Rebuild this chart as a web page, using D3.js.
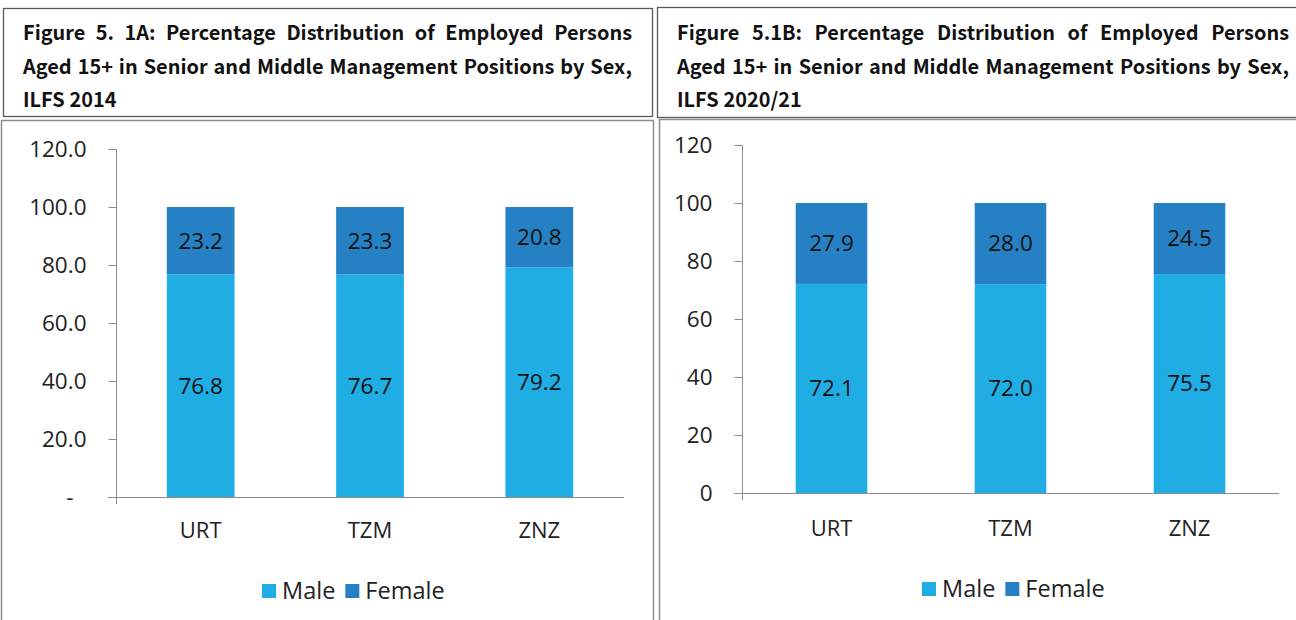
<!DOCTYPE html>
<html>
<head>
<meta charset="utf-8">
<script src="https://cdn.jsdelivr.net/npm/d3@7"></script>
<style>
  body { margin: 0; background: #fff; }
  svg { display: block; }
</style>
</head>
<body>
<svg id="chart" width="1296" height="620"></svg>
<script>
const categories = ["URT", "TZM", "ZNZ"];
const series = ["Male", "Female"];
const colors = ["#1FADE3", "#2581C4"];

const male2014 = [76.8, 76.7, 79.2];
const female2014 = [23.2, 23.3, 20.8];
const male2021 = [72.1, 72.0, 75.5];
const female2021 = [27.9, 28.0, 24.5];

const ticks2014 = [0, 20, 40, 60, 80, 100, 120];
const ticks2021 = [0, 20, 40, 60, 80, 100, 120];

const titleA = [
  "Figure 5. 1A: Percentage Distribution of Employed Persons",
  "Aged 15+ in Senior and Middle Management Positions by Sex,",
  "ILFS 2014"
];
const titleB = [
  "Figure 5.1B: Percentage Distribution of Employed Persons",
  "Aged 15+ in Senior and Middle Management Positions by Sex,",
  "ILFS 2020/21"
];

const svg = d3.select("#chart");
const labelFont = "'Open Sans', 'Noto Sans', sans-serif";
const titleFont = "'Noto Sans CJK SC', 'Noto Sans', sans-serif";

const panels = [
  {
    title: titleA, male: male2014, female: female2014, ticks: ticks2014,
    fmt: d => d === 0 ? "-" : d3.format(".1f")(d),
    titleBox: [3, 8, 649, 108], chartBox: [1, 120, 652, 520],
    textX: [23, 632], baselines: [40, 74, 107],
    x0: 116, x1: 624, y0: 497, yTop: 149, catY: 538, legY: 591, legX: 262
  },
  {
    title: titleB, male: male2021, female: female2021, ticks: ticks2021,
    fmt: d3.format("d"),
    titleBox: [657, 7, 650, 110], chartBox: [659, 119, 650, 520],
    textX: [677, 1289], baselines: [40, 74, 107],
    x0: 742, x1: 1279, y0: 493, yTop: 145, catY: 536, legY: 589, legX: 922
  }
];

// pick a title size so the second line sits with ~6px word gaps
function titleSize(line, width) {
  const t = svg.append("text").attr("font-family", titleFont).attr("font-weight", "bold")
    .attr("font-size", 20).text(line.replace(/ /g, ""));
  const w = t.node().getComputedTextLength();
  t.remove();
  const gaps = line.split(" ").length - 1;
  return 20 * (width - gaps * 6) / w;
}
const tSize = titleSize(titleA[1], 609);

panels.forEach(p => {
  // boxes
  svg.append("rect")
    .attr("x", p.titleBox[0] + 0.5).attr("y", p.titleBox[1] + 0.5)
    .attr("width", p.titleBox[2]).attr("height", p.titleBox[3])
    .attr("fill", "none").attr("stroke", "#595959").attr("stroke-width", 1.3);
  svg.append("rect")
    .attr("x", p.chartBox[0] + 0.5).attr("y", p.chartBox[1] + 0.5)
    .attr("width", p.chartBox[2]).attr("height", p.chartBox[3])
    .attr("fill", "none").attr("stroke", "#8c8c8c").attr("stroke-width", 1.5);

  // justified title
  const tg = svg.append("g")
    .attr("font-family", titleFont).attr("font-weight", "bold")
    .attr("font-size", tSize).attr("fill", "#111");
  p.title.forEach((line, i) => {
    const words = line.split(" ");
    const justify = i < p.title.length - 1;
    const nodes = words.map(w => tg.append("text").attr("y", p.baselines[i]).text(w));
    const widths = nodes.map(n => n.node().getComputedTextLength());
    const total = d3.sum(widths);
    const gap = justify ? (p.textX[1] - p.textX[0] - total) / (words.length - 1) : 5;
    let x = p.textX[0];
    nodes.forEach((n, k) => { n.attr("x", x); x += widths[k] + gap; });
  });

  const x = d3.scaleBand().domain(categories).range([p.x0, p.x1]).paddingInner(0.6).paddingOuter(0.3);
  const y = d3.scaleLinear().domain([0, 120]).range([p.y0, p.yTop]);

  // y axis
  const ya = svg.append("g").attr("transform", `translate(${p.x0 + 0.5},0)`)
    .call(d3.axisLeft(y).tickValues(p.ticks).tickFormat(p.fmt).tickSize(8).tickPadding(22));
  ya.select(".domain").attr("stroke", "#8c8c8c").attr("d", `M-8,${y(120) + 0.5}H0V${p.y0 + 0.5}`);
  ya.selectAll(".tick line").attr("stroke", "#8c8c8c");
  ya.selectAll(".tick text").attr("font-family", labelFont).attr("font-size", 22.5).attr("fill", "#222")
    .attr("dx", d => d === 0 && p.fmt(0) === "-" ? -13 : 0);

  // bars
  const stacked = d3.stack().keys(series)(categories.map((c, i) => ({ Male: p.male[i], Female: p.female[i] })));
  stacked.forEach((s, si) => {
    const g = svg.append("g");
    g.selectAll("rect").data(s).join("rect")
      .attr("x", (d, i) => x(categories[i]))
      .attr("width", x.bandwidth())
      .attr("y", d => y(d[1]))
      .attr("height", d => y(d[0]) - y(d[1]))
      .attr("fill", colors[si]);
    g.selectAll("text").data(s).join("text")
      .attr("x", (d, i) => x(categories[i]) + x.bandwidth() / 2)
      .attr("y", d => (y(d[0]) + y(d[1])) / 2)
      .attr("dy", "0.35em")
      .attr("text-anchor", "middle")
      .attr("font-family", labelFont).attr("font-size", 22.5).attr("fill", "#111")
      .text(d => (d[1] - d[0]).toFixed(1));
  });

  // x axis
  svg.append("path").attr("stroke", "#8c8c8c").attr("fill", "none")
    .attr("d", `M${p.x0 - 8},${p.y0 + 0.5}H${p.x1}`);
  svg.append("path").attr("stroke", "#8c8c8c").attr("fill", "none")
    .attr("d", `M${p.x0 + 0.5},${p.y0}V${p.y0 + 7}`);
  svg.append("g").selectAll("text").data(categories).join("text")
    .attr("x", d => x(d) + x.bandwidth() / 2).attr("y", p.catY)
    .attr("text-anchor", "middle")
    .attr("font-family", labelFont).attr("font-size", 22).attr("fill", "#222")
    .text(d => d);

  // legend
  const lg = svg.append("g").attr("font-family", labelFont).attr("font-size", 23.5).attr("fill", "#222");
  let lx = p.legX;
  series.forEach((s, i) => {
    lg.append("rect").attr("x", lx).attr("y", p.legY - 7).attr("width", 14).attr("height", 14).attr("fill", colors[i]);
    const t = lg.append("text").attr("x", lx + 20).attr("y", p.legY).attr("dy", "0.35em").text(s);
    lx += 20 + t.node().getComputedTextLength() + 10;
  });
});
</script>
</body>
</html>
